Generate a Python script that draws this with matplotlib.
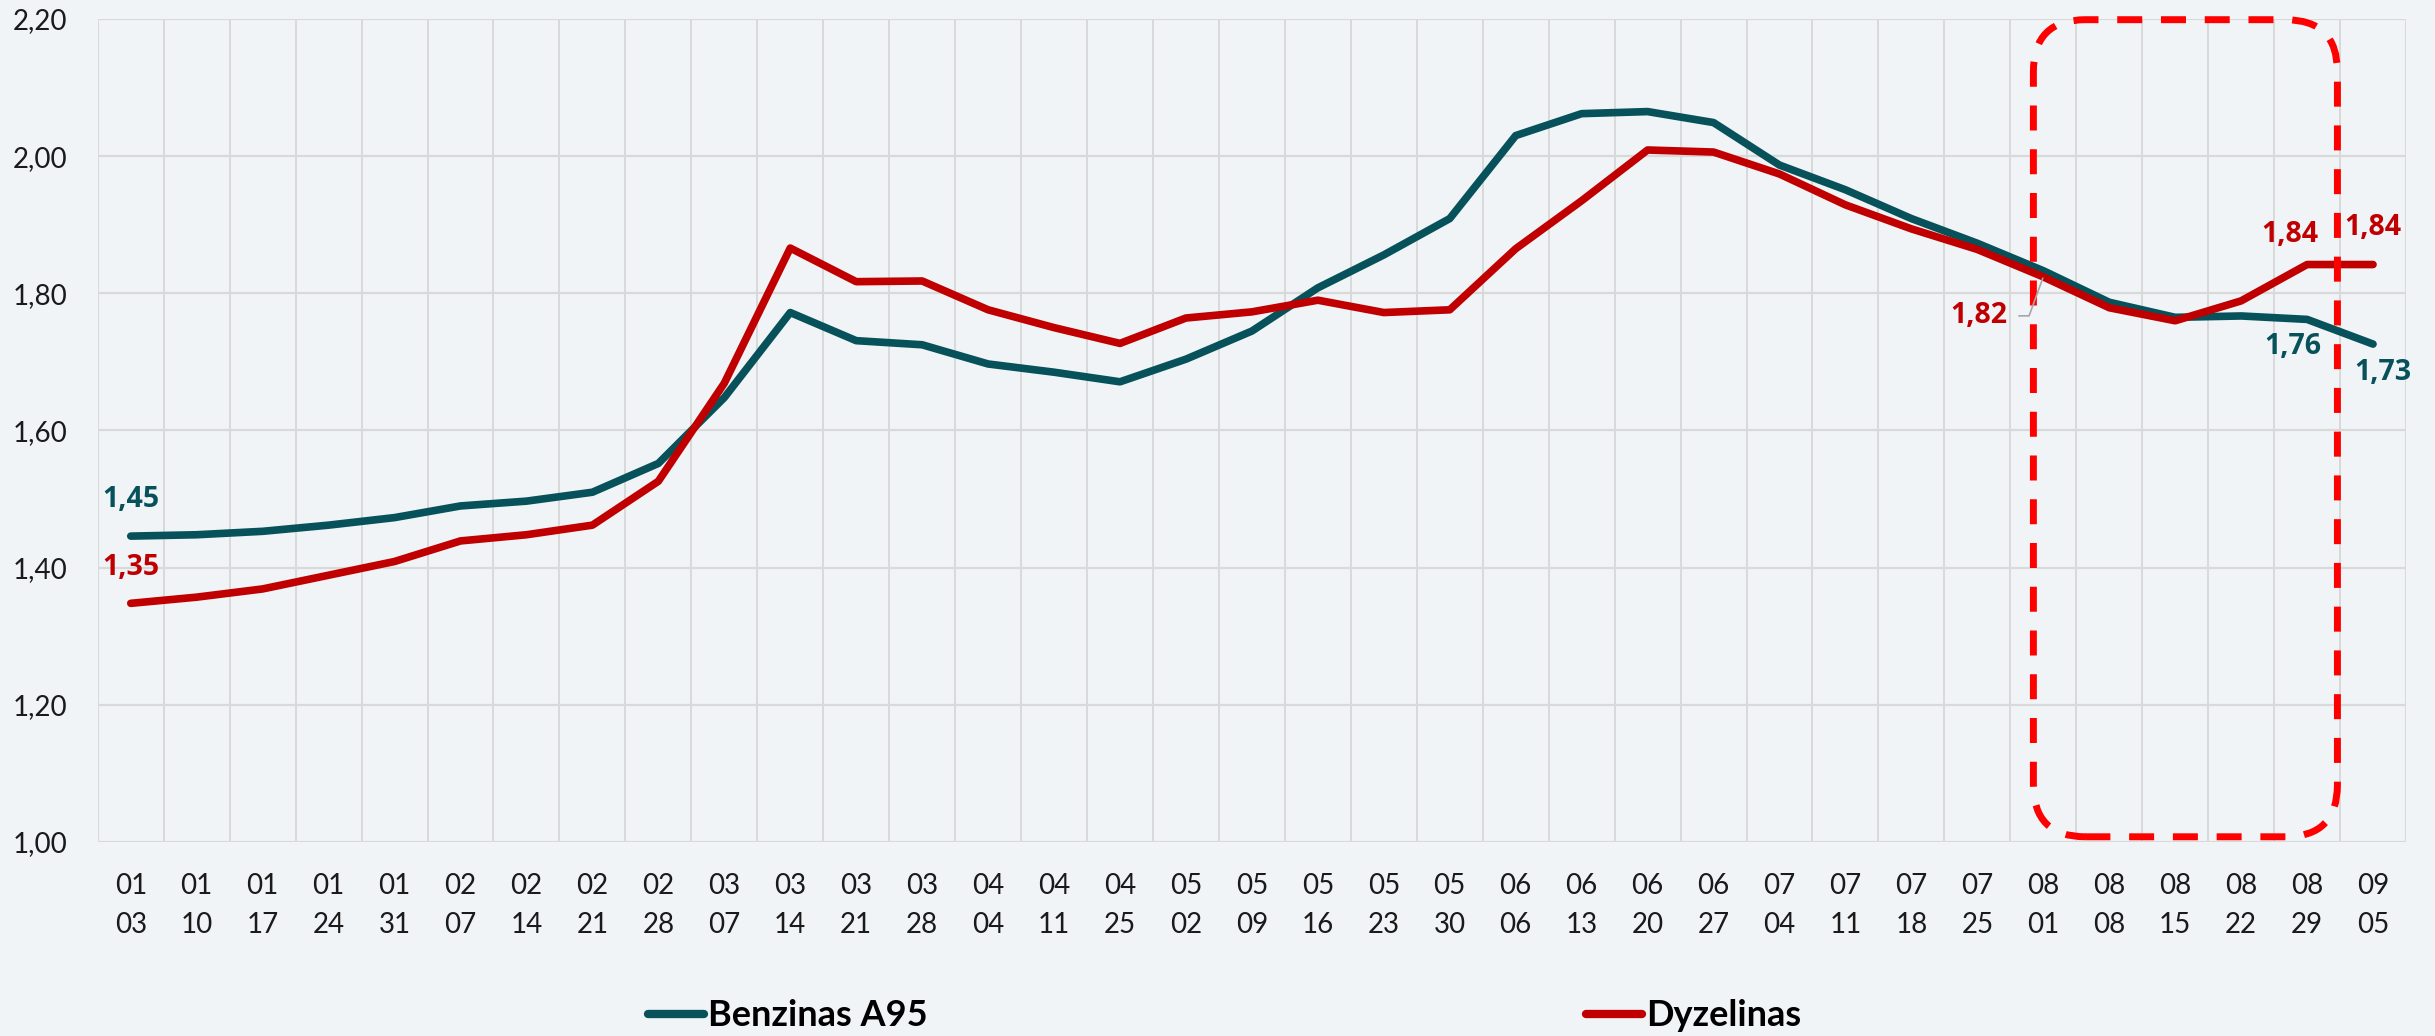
import matplotlib
matplotlib.use("Agg")
import matplotlib.pyplot as plt
from matplotlib.patches import FancyBboxPatch
from matplotlib.ticker import FixedLocator, FuncFormatter

# Weekly dates (month, day)
months = ["01", "01", "01", "01", "01", "02", "02", "02", "02", "03", "03", "03", "03",
          "04", "04", "04", "05", "05", "05", "05", "05", "06", "06", "06", "06",
          "07", "07", "07", "07", "08", "08", "08", "08", "08", "09"]
days = ["03", "10", "17", "24", "31", "07", "14", "21", "28", "07", "14", "21", "28",
        "04", "11", "25", "02", "09", "16", "23", "30", "06", "13", "20", "27",
        "04", "11", "18", "25", "01", "08", "15", "22", "29", "05"]

# Prices, EUR/l
benzinas = [1.446, 1.448, 1.453, 1.462, 1.473, 1.490, 1.497, 1.510, 1.552, 1.648,
            1.772, 1.731, 1.725, 1.697, 1.685, 1.671, 1.704, 1.745, 1.808, 1.856,
            1.909, 2.030, 2.062, 2.065, 2.049, 1.987, 1.951, 1.909, 1.873, 1.833,
            1.787, 1.765, 1.767, 1.762, 1.726]
dyzelinas = [1.348, 1.357, 1.369, 1.389, 1.409, 1.439, 1.448, 1.462, 1.526, 1.669,
             1.866, 1.817, 1.818, 1.776, 1.750, 1.727, 1.764, 1.773, 1.790, 1.772,
             1.776, 1.865, 1.935, 2.009, 2.006, 1.974, 1.929, 1.894, 1.864, 1.824,
             1.779, 1.760, 1.789, 1.842, 1.842]

series_names = ["Benzinas A95", "Dyzelinas"]
yticks = [1.00, 1.20, 1.40, 1.60, 1.80, 2.00, 2.20]

TEAL = "#07525A"
RED = "#C00000"
BG = "#F0F4F7"
GRID = "#D9D9D9"

TICK_FONT = "Lato"
LABEL_FONT = "Open Sans"


def fmt(v):
    return f"{v:.2f}".replace(".", ",")


fig = plt.figure(figsize=(24.35, 10.36), dpi=100, facecolor=BG)
ax = fig.add_axes([0.04016, 0.18726, 0.94793, 0.7944])
ax.set_facecolor(BG)

n = len(days)
x = list(range(n))

l1, = ax.plot(x, benzinas, color=TEAL, lw=5.5, solid_capstyle="round",
              solid_joinstyle="round", zorder=3)
l2, = ax.plot(x, dyzelinas, color=RED, lw=5.5, solid_capstyle="round",
              solid_joinstyle="round", zorder=4)

ax.set_xlim(-0.5, n - 0.5)
ax.set_ylim(yticks[0], yticks[-1])

# Axis ticks and grid
ax.xaxis.set_major_locator(FixedLocator(x))
ax.set_xticklabels([f"{m}\n{d}" for m, d in zip(months, days)],
                   fontfamily=TICK_FONT, fontsize=20, color="#1a1a1a", linespacing=1.65)
ax.xaxis.set_minor_locator(FixedLocator([i - 0.5 for i in range(n + 1)]))
ax.set_yticks(yticks)
ax.yaxis.set_major_formatter(FuncFormatter(lambda v, p: fmt(v)))
for lab in ax.get_yticklabels():
    lab.set_fontfamily(TICK_FONT)
    lab.set_fontsize(20)
    lab.set_color("#1a1a1a")
ax.tick_params(axis="x", which="both", length=0, pad=22)
ax.tick_params(axis="y", which="both", length=0, pad=22)
ax.grid(True, axis="y", which="major", color=GRID, lw=1.6, zorder=1)
ax.grid(True, axis="x", which="minor", color=GRID, lw=1.4, zorder=1)
ax.grid(False, axis="x", which="major")
for s in ax.spines.values():
    s.set_visible(False)
ax.set_axisbelow(True)

# Value labels
label_kw = dict(textcoords="offset pixels", ha="center", va="center",
                fontfamily=LABEL_FONT, fontweight="bold", fontsize=20.5, zorder=6)
ax.annotate(fmt(benzinas[0]), (0, benzinas[0]), xytext=(0, 37), color=TEAL, **label_kw)
ax.annotate(fmt(dyzelinas[0]), (0, dyzelinas[0]), xytext=(0, 36), color=RED, **label_kw)
ax.annotate(fmt(dyzelinas[33]), (33, dyzelinas[33]), xytext=(-17, 30), color=RED, **label_kw)
ax.annotate(fmt(dyzelinas[34]), (34, dyzelinas[34]), xytext=(0, 37), color=RED, **label_kw)
ax.annotate(fmt(benzinas[33]), (33, benzinas[33]), xytext=(-14, -27), color=TEAL, **label_kw)
ax.annotate(fmt(benzinas[34]), (34, benzinas[34]), xytext=(10, -28), color=TEAL, **label_kw)
ax.annotate(fmt(dyzelinas[29]), (29, dyzelinas[29]), xytext=(-64, -39), color=RED,
            arrowprops=dict(arrowstyle="-", color="#A6A6A6", lw=1.2,
                            connectionstyle="angle,angleA=0,angleB=70,rad=0",
                            relpos=(1, 0.5), shrinkA=6, shrinkB=1),
            **label_kw)

# Dashed highlight frame around August
p0 = ax.transData.transform((0, 0))
p1 = ax.transData.transform((1, 1))
sx, sy = p1[0] - p0[0], p1[1] - p0[1]
radius_px = 52
bx0, bx1 = 29 - 0.15, 33 + 0.46
by0, by1 = 1.0076, 2.199
frame = FancyBboxPatch((bx0, by0), bx1 - bx0, by1 - by0,
                       boxstyle=f"round,pad=0,rounding_size={radius_px / sx}",
                       mutation_aspect=sx / sy,
                       fill=False, edgecolor="#FF0000", lw=5,
                       linestyle=(0, (3.6, 2.7)), zorder=5, clip_on=False)
ax.add_patch(frame)

# Legend
leg_kw = dict(loc="center left", frameon=False, borderpad=0, borderaxespad=0,
              handlelength=1.55, handletextpad=0.12,
              prop=dict(family=TICK_FONT, weight="bold", size=26))
leg1 = fig.legend([l1], [series_names[0]], bbox_to_anchor=(0.2661, 0.0195), **leg_kw)
leg2 = fig.legend([l2], [series_names[1]], bbox_to_anchor=(0.6513, 0.0195), **leg_kw)
for lg in (leg1, leg2):
    for h in lg.legend_handles:
        h.set_linewidth(6)
        h.set_solid_capstyle("round")

fig.savefig("out.png", dpi=100, facecolor=BG)
